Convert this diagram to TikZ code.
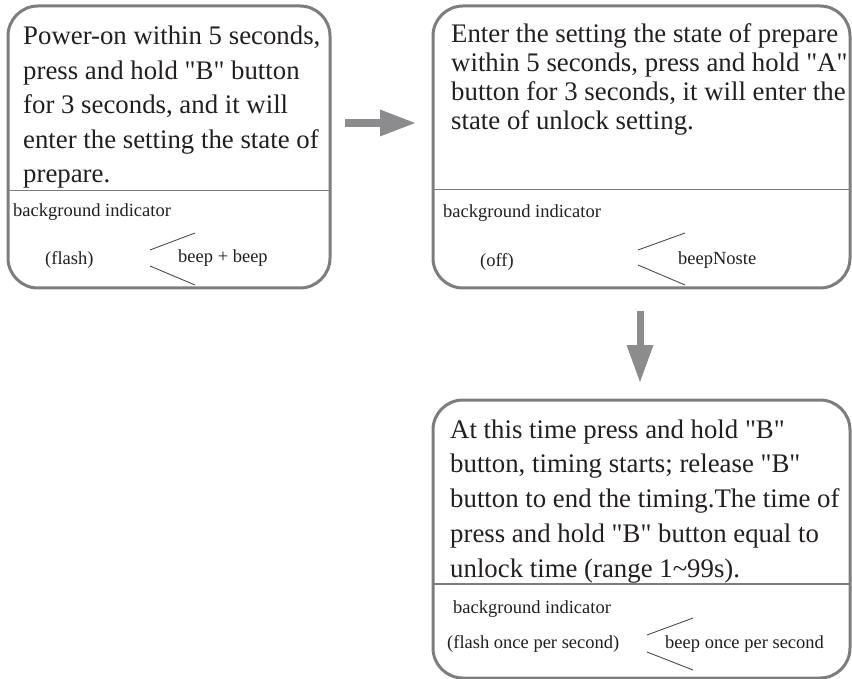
\documentclass[tikz,border=0pt]{standalone}
\usepackage{fontspec}
\setmainfont{Liberation Serif}[Ligatures=TeXOff]
\usetikzlibrary{arrows.meta}
\definecolor{bordergray}{HTML}{7D7D7D}
\definecolor{arrowgray}{HTML}{8C8C8E}
\definecolor{ink}{HTML}{231F20}
\tikzset{
  statebox/.style={draw=bordergray, line width=3pt, rounded corners=30pt, rectangle, inner sep=0pt, outer sep=0pt},
  divider/.style={draw=bordergray, line width=1.5pt},
  maintext/.style={anchor=base west, inner sep=0pt, align=left, text=ink, font=\fontsize{26.8}{34.5}\selectfont},
  smalltext/.style={anchor=base west, inner sep=0pt, text=ink, font=\fontsize{18.5}{22}\selectfont},
  vline/.style={draw=ink!80, line width=0.9pt},
  blockarrow/.style={draw=arrowgray, line width=8pt},
}
\begin{document}
\begin{tikzpicture}[x=1pt,y=-1pt]
\useasboundingbox (0,0) rectangle (852,679);
% boxes
\node[statebox, minimum width=322pt, minimum height=282pt] (b1) at (169,147) {};
\node[statebox, minimum width=417pt, minimum height=282pt] (b2) at (641.5,147) {};
\node[statebox, minimum width=417pt, minimum height=278pt] (b3) at (641.5,539) {};
% dividers
\draw[divider] (b1.west |- 0,190.5) -- (b1.east |- 0,190.5);
\draw[divider] (b2.west |- 0,189.5) -- (b2.east |- 0,189.5);
\draw[divider] (b3.west |- 0,584) -- (b3.east |- 0,584);
% main texts (anchor at the last line's baseline)
\node[maintext] (t1) at (23,183) {Power-on within 5 seconds,\\press and hold "B" button\\for 3 seconds, and it will\\enter the setting the state of\\prepare.};
\node[maintext, font=\fontsize{26.8}{29}\selectfont] (t2) at (451,130) {Enter the setting the state of prepare\\within 5 seconds, press and hold "A"\\button for 3 seconds, it will enter the\\state of unlock setting.};
\node[maintext, font=\fontsize{26.8}{34.75}\selectfont] (t3) at (450,577) {At this time press and hold "B"\\button, timing starts; release "B"\\button to end the timing.The time of\\press and hold "B" button equal to\\unlock time (range 1\char"007E 99s).};
% small texts
\node[smalltext] (s1a) at (13,217) {background indicator};
\node[smalltext] (s1b) at (45,265) {(flash)};
\node[smalltext] (s1c) at (178,263) {beep + beep};
\node[smalltext] (s2a) at (443,218) {background indicator};
\node[smalltext] (s2b) at (480,267) {(off)};
\node[smalltext] (s2c) at (678,265) {beepNoste};
\node[smalltext] (s3a) at (453,613) {background indicator};
\node[smalltext] (s3b) at (447,648) {(flash once per second)};
\node[smalltext] (s3c) at (665,648) {beep once per second};
% open angle marks
\draw[vline] (195,233) -- (150,250);
\draw[vline] (150,266) -- (195,285);
\draw[vline] (685,233) -- (638,250);
\draw[vline] (638,265) -- (685,285);
\draw[vline] (693,618) -- (647,635);
\draw[vline] (647,652) -- (693,670);
% arrows
\coordinate (h1) at (345,123);
\coordinate (h2) at (415,123);
\coordinate (v1) at (640,311);
\coordinate (v2) at (640,382);
\draw[blockarrow, -{Triangle[length=35pt,width=27pt,fill=arrowgray,line width=0pt]}] (h1) -- (h2);
\draw[blockarrow, line width=7pt, -{Triangle[length=37pt,width=27pt,fill=arrowgray,line width=0pt]}] (v1) -- (v2);
\end{tikzpicture}
\end{document}
